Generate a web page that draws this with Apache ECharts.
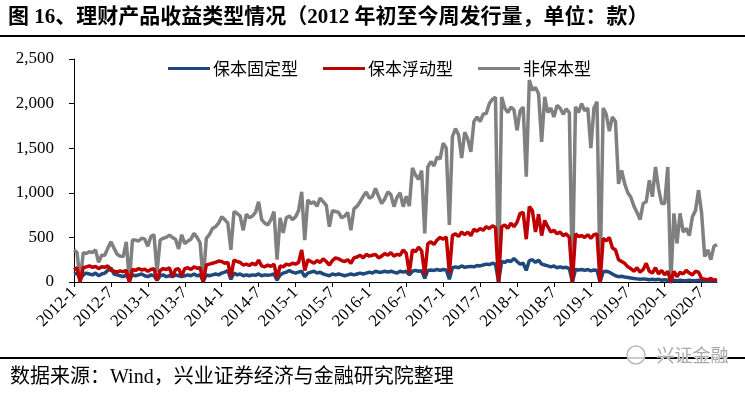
<!DOCTYPE html>
<html>
<head>
<meta charset="utf-8">
<script src="https://cdn.jsdelivr.net/npm/echarts@6/dist/echarts.min.js"></script>
<style>html,body{margin:0;padding:0;background:#fff;}#c{width:745px;height:393px;}</style>
</head>
<body>
<div id="c"></div>
<script>
// Half-month sampling from 2012-01 to 2020-09
const tickLabels = ['2012-1','2012-7','2013-1','2013-7','2014-1','2014-7','2015-1','2015-7','2016-1','2016-7','2017-1','2017-7','2018-1','2018-7','2019-1','2019-7','2020-1','2020-7'];
const seriesNames = ['保本固定型','保本浮动型','非保本型'];

const fixedVals = [
90,100,30,80,100,90,80,100,70,90,
100,130,160,90,80,70,60,80,20,80,
70,80,90,70,60,80,70,20,70,80,
60,70,60,80,70,60,70,80,70,90,
70,80,10,80,70,80,90,80,100,110,
130,30,100,80,90,70,80,70,80,75,
90,70,80,75,80,90,20,80,100,110,
130,110,100,110,120,60,100,110,120,100,
110,90,80,70,90,80,90,80,70,80,
90,80,90,100,90,100,110,100,120,110,
110,120,110,120,110,100,120,110,120,80,
120,130,120,125,40,130,135,130,140,130,
140,135,30,160,170,160,180,165,170,175,
170,185,180,190,200,195,210,200,0,230,
220,240,230,265,230,200,210,130,240,250,
220,245,200,190,180,170,180,160,170,160,
165,150,0,140,135,140,130,140,125,135,
130,0,115,120,110,90,70,60,65,55,
50,45,40,35,30,35,30,25,30,25,
30,20,25,20,0,20,15,20,15,15,
20,15,15,20,15,10,15,10,15,10];

const floatVals = [
135,160,0,160,170,180,165,175,150,170,
165,180,130,120,110,125,115,130,0,140,
130,150,135,145,120,140,150,20,130,150,
140,160,60,140,150,70,150,160,140,170,
155,160,0,190,200,210,220,235,230,210,
220,60,245,230,220,190,200,185,210,190,
245,180,170,190,175,200,45,180,170,200,
190,210,200,220,360,130,250,230,210,240,
220,260,230,190,240,270,260,240,230,250,
210,270,280,300,270,310,290,300,310,270,
290,320,300,330,290,310,300,360,320,100,
360,340,390,350,80,430,450,420,470,500,
480,505,100,520,540,510,560,530,560,520,
590,570,600,580,620,600,630,610,0,620,
640,600,660,620,670,770,780,480,845,800,
560,760,520,690,620,560,580,540,560,520,
540,500,0,540,510,520,500,530,490,530,
540,0,490,460,500,380,360,250,230,210,
170,150,120,160,110,140,210,120,100,160,
90,130,80,120,0,120,60,110,90,130,
100,80,120,110,40,30,25,40,20,30];

const nonGuarVals = [
360,330,0,330,320,340,330,360,220,300,
300,380,450,380,310,290,285,450,0,470,
470,460,490,480,400,510,530,110,470,490,
500,525,500,480,370,530,430,460,480,545,
500,440,0,490,530,600,620,660,730,700,
660,360,790,770,740,580,760,720,740,780,
900,700,660,640,700,790,250,720,550,720,
740,700,730,800,1010,470,920,880,900,850,
940,900,860,620,800,790,780,720,740,780,
580,820,850,900,960,1010,940,960,1050,960,
880,930,1010,980,845,950,1000,845,960,850,
1280,1200,1150,1250,545,1290,1350,1300,1400,1380,
1556,1500,640,1630,1720,1650,1390,1680,1600,1460,
1800,1850,1800,1880,1890,2000,2050,2070,0,2075,
1950,1900,1960,1930,1700,1920,1960,1180,2265,2150,
2180,2110,1570,2075,1900,1950,1850,1980,1950,1880,
1940,1900,0,1965,1900,2000,1920,1950,1500,1950,
2020,0,1950,1880,1690,1850,1800,1100,1250,1100,
1000,950,850,780,700,880,900,1140,956,1290,
1050,880,880,1290,0,770,435,770,560,600,
520,730,800,1030,770,285,360,250,400,420];

const categories = [];
for (let i = 0; i < nonGuarVals.length; i++) {
  const m = Math.floor(i / 2);
  categories.push((2012 + Math.floor(m / 12)) + '-' + (m % 12 + 1) + (i % 2 ? 'b' : 'a'));
}

const serifFont = "'Liberation Serif','Noto Sans CJK SC',serif";
const chart = echarts.init(document.getElementById('c'), null, {renderer: 'canvas'});
const isTick = (idx) => idx % 12 === 0;

chart.setOption({
  animation: false,
  backgroundColor: '#fff',
  grid: {left: 74, top: 59, width: 643, height: 223, containLabel: false},
  legend: {
    data: seriesNames,
    left: 163, top: 55,
    icon: 'rect', itemWidth: 42, itemHeight: 3, itemGap: 25,
    textStyle: {fontSize: 17, color: '#000', fontFamily: "'Noto Sans CJK SC',serif", padding: [0,0,0,-2]}
  },
  xAxis: {
    type: 'category', data: categories, boundaryGap: false,
    axisLine: {lineStyle: {color: '#000', width: 1}},
    axisTick: {show: true, interval: (idx) => isTick(idx), length: 5, lineStyle: {color: '#000'}},
    axisLabel: {
      interval: (idx) => isTick(idx), rotate: 45, margin: 8,
      fontSize: 17, color: '#000', fontFamily: serifFont,
      formatter: (v, idx) => tickLabels[idx / 12] || ''
    },
    splitLine: {show: false}
  },
  yAxis: {
    type: 'value', min: 0, max: 2500, interval: 500,
    axisLine: {show: true, lineStyle: {color: '#000', width: 1}},
    axisTick: {show: true, length: 5, lineStyle: {color: '#000'}},
    axisLabel: {fontSize: 17, color: '#000', fontFamily: serifFont, margin: 20,
      formatter: (v) => v.toLocaleString('en-US')},
    splitLine: {show: false}
  },
  series: [
    {name: seriesNames[2], type: 'line', data: nonGuarVals, symbol: 'none', lineStyle: {color: '#808080', width: 3.5}, itemStyle: {color: '#808080'}, z: 2},
    {name: seriesNames[0], type: 'line', data: fixedVals, symbol: 'none', lineStyle: {color: '#1F497D', width: 3.5}, itemStyle: {color: '#1F497D'}, z: 3},
    {name: seriesNames[1], type: 'line', data: floatVals, symbol: 'none', lineStyle: {color: '#C00000', width: 3.5}, itemStyle: {color: '#C00000'}, z: 4}
  ],
  graphic: [
    {type: 'text', left: 8, top: 7, style: {text: '图 16、理财产品收益类型情况（2012 年初至今周发行量，单位：款）', font: "bold 21px 'Liberation Serif','Noto Sans CJK SC',serif", fill: '#000'}},
    {type: 'rect', shape: {x: 0, y: 35, width: 745, height: 2}, style: {fill: '#000'}},
    {type: 'rect', shape: {x: 0, y: 357, width: 745, height: 2}, style: {fill: '#000'}},
    {type: 'text', left: 10, top: 368, style: {text: '数据来源：Wind，兴业证券经济与金融研究院整理', font: "20px 'Liberation Serif','Noto Sans CJK SC',serif", fill: '#000'}},
    {type: 'circle', shape: {cx: 636, cy: 355, r: 9}, style: {fill: 'rgba(255,255,255,0.8)', stroke: '#bbb', lineWidth: 1.5}},
    {type: 'text', left: 656, top: 346, style: {text: '兴证金融', font: "18px 'Noto Sans CJK SC',sans-serif", fill: '#aaa', stroke: '#fff', lineWidth: 1}}
  ]
});
</script>
</body>
</html>
